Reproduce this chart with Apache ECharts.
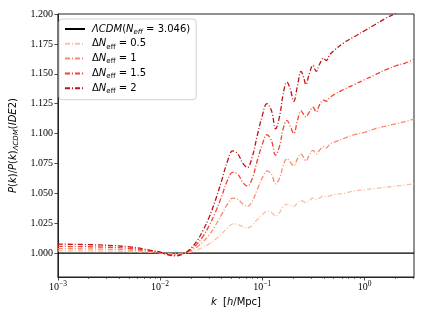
<!DOCTYPE html>
<html>
<head>
<meta charset="utf-8">
<script src="https://cdn.jsdelivr.net/npm/echarts@6/dist/echarts.min.js"></script>
<style>
html, body { margin: 0; padding: 0; background: #fff; }
#main { width: 426px; height: 320px; }
</style>
</head>
<body>
<div id="main"></div>
<script>
// k in h/Mpc
var kValues = [0.001, 0.00251, 0.00501, 0.00794, 0.01, 0.012, 0.0141, 0.017, 0.02, 0.0229,
    0.0263, 0.0302, 0.0347, 0.0398, 0.0457, 0.0513, 0.0575, 0.0646, 0.0714, 0.0794,
    0.0891, 0.1, 0.111, 0.123, 0.135, 0.148, 0.16, 0.174, 0.188, 0.203,
    0.221, 0.239, 0.254, 0.267, 0.288, 0.313, 0.337, 0.363, 0.397, 0.422,
    0.457, 0.513, 0.631, 0.794, 1.0, 1.26, 1.58, 2.0, 2.51, 3.05];
var neff05 = [1.0019, 1.0017, 1.0013, 1.0007, 1.0002, 0.9996, 0.9994, 0.9998, 1.001, 1.0025,
    1.0048, 1.0077, 1.0115, 1.016, 1.021, 1.0245, 1.024, 1.022, 1.021, 1.023,
    1.028, 1.032, 1.035, 1.034, 1.031, 1.034, 1.039, 1.041, 1.040, 1.039,
    1.042, 1.044, 1.043, 1.042, 1.044, 1.046, 1.045, 1.046, 1.048, 1.047,
    1.048, 1.049, 1.050, 1.052, 1.053, 1.054, 1.055, 1.056, 1.057, 1.058];
var neff10 = [1.0037, 1.0034, 1.0026, 1.0013, 1.0004, 0.9992, 0.9988, 0.9997, 1.002, 1.005,
    1.0095, 1.015, 1.023, 1.032, 1.041, 1.046, 1.045, 1.041, 1.039, 1.043,
    1.053, 1.063, 1.0687, 1.066, 1.058, 1.063, 1.073, 1.079, 1.076, 1.073,
    1.079, 1.083, 1.080, 1.077, 1.082, 1.086, 1.083, 1.086, 1.089, 1.088,
    1.091, 1.093, 1.096, 1.099, 1.101, 1.104, 1.106, 1.108, 1.110, 1.112];
var neff15 = [1.0056, 1.0051, 1.0039, 1.0019, 1.0006, 0.9988, 0.9983, 0.9996, 1.003, 1.0075,
    1.014, 1.023, 1.034, 1.047, 1.061, 1.0675, 1.066, 1.059, 1.056, 1.062,
    1.077, 1.091, 1.099, 1.094, 1.082, 1.090, 1.104, 1.111, 1.106, 1.100,
    1.111, 1.119, 1.116, 1.114, 1.118, 1.122, 1.118, 1.124, 1.128, 1.127,
    1.130, 1.133, 1.137, 1.141, 1.145, 1.149, 1.153, 1.1565, 1.159, 1.162];
var neff20 = [1.0075, 1.0068, 1.0052, 1.0025, 1.0008, 0.9985, 0.9977, 0.9995, 1.004, 1.010,
    1.019, 1.030, 1.044, 1.060, 1.077, 1.0855, 1.083, 1.075, 1.0716, 1.080,
    1.098, 1.115, 1.125, 1.119, 1.104, 1.115, 1.133, 1.143, 1.137, 1.127,
    1.140, 1.152, 1.147, 1.141, 1.150, 1.157, 1.152, 1.158, 1.163, 1.161,
    1.166, 1.170, 1.176, 1.181, 1.186, 1.191, 1.196, 1.2005, 1.205, 1.209];
var lcdmK = [0.001, 3.05];
var lcdmP = [1.0, 1.0];

var yTicks = [1.0, 1.025, 1.05, 1.075, 1.1, 1.125, 1.15, 1.175, 1.2];
var xMajor = [0.001, 0.01, 0.1, 1];
var xMinor = [0.002, 0.003, 0.004, 0.005, 0.006, 0.007, 0.008, 0.009,
    0.02, 0.03, 0.04, 0.05, 0.06, 0.07, 0.08, 0.09,
    0.2, 0.3, 0.4, 0.5, 0.6, 0.7, 0.8, 0.9, 2, 3];

var names = ['lcdm', 'n05', 'n10', 'n15', 'n20'];
var legendText = {
    lcdm: '{it|ΛCDM}{rm|(}{it|N}{sit|eff}{rm| = 3.046)}',
    n05: '{rm|Δ}{it|N}{sub|eff}{rm| = 0.5}',
    n10: '{rm|Δ}{it|N}{sub|eff}{rm| = 1}',
    n15: '{rm|Δ}{it|N}{sub|eff}{rm| = 1.5}',
    n20: '{rm|Δ}{it|N}{sub|eff}{rm| = 2}'
};
var colors = ['#000000', '#fcbea5', '#fc8a6a', '#f14432', '#bc141a'];

var textRich = {
    it: { fontFamily: 'DejaVu Sans', fontStyle: 'italic', fontSize: 10, lineHeight: 13, color: '#000' },
    rm: { fontFamily: 'DejaVu Sans', fontSize: 10, lineHeight: 13, color: '#000' },
    sub: { fontFamily: 'DejaVu Sans', fontSize: 7, lineHeight: 7, verticalAlign: 'bottom', color: '#000' },
    sit: { fontFamily: 'DejaVu Sans', fontStyle: 'italic', fontSize: 7, lineHeight: 7, verticalAlign: 'bottom', color: '#000' }
};

function pairs(ks, vs) {
    return ks.map(function (k, i) { return [k, vs[i]]; });
}

var dashDot = [5, 2, 1, 2];
var seriesData = [pairs(lcdmK, lcdmP), pairs(kValues, neff05), pairs(kValues, neff10),
    pairs(kValues, neff15), pairs(kValues, neff20)];

var series = names.map(function (n, i) {
    return {
        name: n,
        type: 'line',
        xAxisIndex: 0,
        data: seriesData[i],
        symbol: 'none',
        smooth: i === 0 ? false : 0.4,
        clip: true,
        color: colors[i],
        lineStyle: {
            color: colors[i],
            width: i === 0 ? 1.4 : 1.3,
            type: i === 0 ? 'solid' : dashDot
        },
        z: i === 0 ? 1 : 2 + i,
        animation: false
    };
});

var chart = echarts.init(document.getElementById('main'));
chart.setOption({
    animation: false,
    grid: { left: 54, right: 12, top: 14, bottom: 43, show: true, borderColor: '#222', borderWidth: 1 },
    legend: {
        data: names,
        orient: 'vertical',
        left: 59,
        top: 19,
        padding: [5, 6, 5, 5],
        itemWidth: 20,
        itemHeight: 8,
        itemGap: 3.3,
        itemStyle: { opacity: 0 },
        backgroundColor: 'rgba(255,255,255,0.85)',
        borderColor: '#d0d0d0',
        borderWidth: 1,
        borderRadius: 3,
        formatter: function (n) { return legendText[n]; },
        textStyle: { rich: textRich, padding: [0, 0, 0, 2] }
    },
    xAxis: [{
        type: 'log',
        logBase: 10,
        min: 0.001,
        max: 3.05,
        position: 'bottom',
        name: '{it|k}{rm|  [}{it|h}{rm|/Mpc]}',
        nameLocation: 'middle',
        nameGap: 19,
        nameTextStyle: { rich: textRich },
        axisLine: { show: true, lineStyle: { color: '#222', width: 1 } },
        axisTick: { show: true, inside: false, length: 3.5, customValues: xMajor, lineStyle: { color: '#222', width: 0.8 } },
        axisLabel: {
            show: true,
            customValues: xMajor,
            margin: 3,
            formatter: function (v) {
                var e = Math.round(Math.log10(v));
                return '{b|10}{s|' + (e < 0 ? '\u2212' + (-e) : e) + '}';
            },
            rich: {
                b: { fontFamily: 'Liberation Serif', fontSize: 10, lineHeight: 12, verticalAlign: 'bottom', color: '#000' },
                s: { fontFamily: 'Liberation Serif', fontSize: 7.5, lineHeight: 7, verticalAlign: 'top', color: '#000' }
            }
        },
        splitLine: { show: false }
    }, {
        type: 'log',
        logBase: 10,
        min: 0.001,
        max: 3.05,
        position: 'bottom',
        axisLine: { show: false },
        axisTick: { show: true, inside: false, length: 2, customValues: xMinor, lineStyle: { color: '#222', width: 0.6 } },
        axisLabel: { show: false },
        splitLine: { show: false }
    }],
    yAxis: {
        type: 'value',
        min: 0.98,
        max: 1.2,
        name: '{it|P}{rm|(}{it|k}{rm|)/}{it|P}{rm|(}{it|k}{rm|)}{sit|ΛCDM}{rm|(}{it|IDE}{rm|2)}',
        nameLocation: 'middle',
        nameRotate: 90,
        nameGap: 37,
        nameTextStyle: { rich: textRich },
        axisLine: { show: true, lineStyle: { color: '#222', width: 1 } },
        axisTick: { show: true, inside: false, length: 3.5, customValues: yTicks, lineStyle: { color: '#222', width: 0.8 } },
        axisLabel: {
            customValues: yTicks,
            margin: 5,
            fontFamily: 'Liberation Serif',
            fontSize: 10,
            color: '#000',
            formatter: function (v) { return v.toFixed(3); }
        },
        splitLine: { show: false }
    },
    series: series
});
</script>
</body>
</html>
